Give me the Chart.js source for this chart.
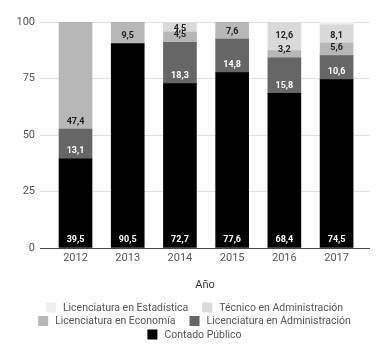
<!DOCTYPE html>
<html><head><meta charset="utf-8">
<script src="https://cdn.jsdelivr.net/npm/chart.js@4.4.1/dist/chart.umd.min.js"></script>
<style>html,body{margin:0;padding:0;background:#fff;}#wrap{width:389px;height:357px;}</style>
</head><body><div id="wrap"><canvas id="c" width="389" height="357"></canvas></div>
<script>
const categories = ['2012', '2013', '2014', '2015', '2016', '2017'];
const contadorPublico = [39.5, 90.5, 72.7, 77.6, 68.4, 74.5];
const licAdministracion = [13.1, null, 18.3, 14.8, 15.8, 10.6];
const licEconomia = [47.4, 9.5, 4.5, 7.6, 3.2, 5.6];
const tecAdministracion = [null, null, 4.5, null, 12.6, 8.1];
const licEstadistica = [null, null, null, null, null, 1.2];
const yTicks = [0, 25, 50, 75, 100];

const seriesNames = ['Contado Público', 'Licenciatura en Administración', 'Licenciatura en Economía', 'Técnico en Administración', 'Licenciatura en Estadística'];
const seriesValues = [contadorPublico, licAdministracion, licEconomia, tecAdministracion, licEstadistica];
const seriesColors = ['#000000', '#666666', '#b7b7b7', '#d9d9d9', '#efefef'];
const labelColors = ['#ffffff', '#ffffff', '#222222', '#222222', '#222222'];

Chart.defaults.font.family = 'Roboto';

const datasets = seriesValues.map((vals, k) => ({
  label: seriesNames[k],
  data: vals.map((v, i) => ({ x: i, y: v })),
  backgroundColor: seriesColors[k],
  borderWidth: 0,
  barThickness: 33
}));

const fmt = v => v.toFixed(1).replace('.', ',');

const labelPlugin = {
  id: 'segLabels',
  afterDatasetsDraw(chart) {
    const ctx = chart.ctx;
    const top = chart.chartArea.top;
    const prev = {};
    ctx.save();
    ctx.font = 'bold 9px Roboto';
    ctx.textAlign = 'center';
    ctx.textBaseline = 'middle';
    chart.data.datasets.forEach((ds, di) => {
      const meta = chart.getDatasetMeta(di);
      meta.data.forEach((el, i) => {
        const v = ds.data[i].y;
        if (v == null) return;
        const h = el.base - el.y;
        if (h < 5) return;
        let y = el.base - 7.5;
        if (prev[i] !== undefined && prev[i] - y < 10) y = prev[i] - 14;
        if (y < top + 6.5) y = top + 6.5;
        prev[i] = y;
        ctx.fillStyle = labelColors[di];
        ctx.fillText(fmt(v), el.x, y);
      });
    });
    ctx.restore();
  }
};

const legendPlugin = {
  id: 'customLegend',
  afterDraw(chart) {
    const ctx = chart.ctx;
    const items = chart.data.datasets.map(d => ({ text: d.label, color: d.backgroundColor })).reverse();
    ctx.save();
    ctx.font = '10.5px Roboto';
    const box = 10, gapText = 7, gapItem = 14, maxW = 370;
    items.forEach(it => { it.w = box + gapText + ctx.measureText(it.text).width; });
    const rows = [];
    let cur = [], curW = 0;
    items.forEach(it => {
      const add = cur.length ? gapItem + it.w : it.w;
      if (cur.length && curW + add > maxW) { rows.push(cur); cur = [it]; curW = it.w; }
      else { cur.push(it); curW += add; }
    });
    if (cur.length) rows.push(cur);
    let y = chart.scales.x.bottom + 15.5;
    ctx.textBaseline = 'middle';
    ctx.textAlign = 'left';
    rows.forEach(row => {
      const total = row.reduce((s, it) => s + it.w, 0) + gapItem * (row.length - 1);
      let x = (chart.width - total) / 2;
      row.forEach(it => {
        ctx.fillStyle = it.color;
        ctx.fillRect(x, y - 5, box, box);
        ctx.fillStyle = '#555555';
        ctx.fillText(it.text, x + box + gapText, y + 0.5);
        x += it.w + gapItem;
      });
      y += 13.5;
    });
    ctx.restore();
  }
};

new Chart(document.getElementById('c'), {
  type: 'bar',
  data: { datasets },
  plugins: [labelPlugin, legendPlugin],
  options: {
    responsive: false,
    animation: false,
    devicePixelRatio: 1,
    layout: { padding: { top: 22, right: 19, bottom: 65, left: 0 } },
    plugins: { legend: { display: false }, tooltip: { enabled: false } },
    scales: {
      x: {
        type: 'linear',
        stacked: true,
        offset: false,
        min: -0.68,
        max: 5.64,
        afterBuildTicks: s => { s.ticks = categories.map((c, i) => ({ value: i })); },
        afterFit: s => { s.height = 44; },
        ticks: {
          callback: v => categories[v] ?? '',
          font: { size: 11 },
          color: '#555555',
          padding: 4,
          maxRotation: 0,
          autoSkip: false
        },
        grid: { display: false, drawTicks: false, offset: false },
        border: { display: false },
        title: { display: true, text: 'Año', font: { size: 11 }, color: '#333333', padding: { top: 0, bottom: 0.6 } }
      },
      y: {
        stacked: true,
        min: 0,
        max: 100,
        afterBuildTicks: s => { s.ticks = yTicks.map(v => ({ value: v })); },
        afterFit: s => { s.width = 40; },
        ticks: { font: { size: 11 }, color: '#555555', padding: 5 },
        grid: {
          drawTicks: false,
          color: c => (c.tick && c.tick.value === 0) ? '#444444' : '#e0e0e0',
          lineWidth: 1
        },
        border: { display: false }
      }
    }
  }
});
</script>
</body></html>
